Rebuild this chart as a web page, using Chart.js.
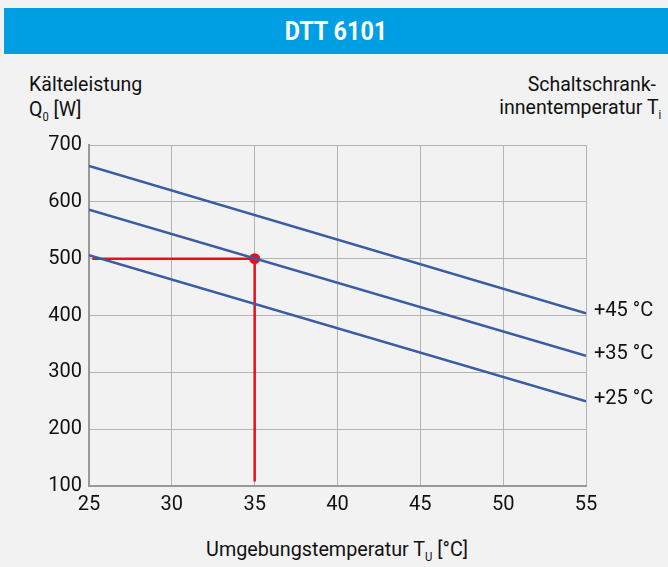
<!DOCTYPE html>
<html>
<head>
<meta charset="utf-8">
<script src="https://cdn.jsdelivr.net/npm/chart.js@4.4.1/dist/chart.umd.min.js"></script>
<style>
  body { margin: 0; background: #fff; font-family: Roboto, sans-serif; }
  #wrap { position: relative; width: 668px; height: 567px; background: #f2f2f2; }
  #bar { position: absolute; left: 4px; top: 8px; width: 664px; height: 46px; background: #009fe3; }
  #title { position: absolute; left: 4px; top: 8px; width: 664px; height: 46px; line-height: 46px;
           text-align: center; color: #fff; font-weight: bold; font-size: 26px; }
  #title span { display: inline-block; transform: scaleX(0.9); }
  .lab { position: absolute; font-size: 21px; line-height: 21px; color: #111; white-space: nowrap; }
  .lab sub { font-size: 12px; vertical-align: -5px; line-height: 0; }
  .l { transform: scaleX(0.93); transform-origin: left; }
  .r { transform: scaleX(0.93); transform-origin: right; text-align: right; }
  .m { transform: scaleX(0.94); transform-origin: center; text-align: center; }
  canvas { position: absolute; left: 0; top: 0; }
</style>
</head>
<body>
<div id="wrap">
  <div id="bar"></div>
  <div id="title"><span>DTT 6101</span></div>
  <div class="lab l" style="left:29px; top:74px;">Kälteleistung</div>
  <div class="lab l" style="left:29px; top:99px;">Q<sub>0</sub> [W]</div>
  <div class="lab r" style="right:12px; top:74px;">Schaltschrank-</div>
  <div class="lab r" style="right:7px; top:97px;">innentemperatur T<sub>i</sub></div>
  <div class="lab m" style="left:0; width:674px; top:539px;">Umgebungstemperatur T<sub>U</sub> [°C]</div>
  <canvas id="c" width="668" height="567"></canvas>
</div>
<script>
// Umgebungstemperatur (x) and Kälteleistung values at the line ends
var tempX = [25, 55];
var line45 = [663, 404];
var line35 = [586, 329];
var line25 = [506, 249];
var seriesLabels = ['+45 °C', '+35 °C', '+25 °C'];
// reading example (red)
var exampleX = [25.2, 35, 35];
var exampleY = [500, 500, 108];
var pointX = 35, pointY = 500;

var blue = '#3a5ca2';
var red = '#e8101a';

function pts(xs, ys) {
  return xs.map(function (x, i) { return { x: x, y: ys[i] }; });
}

var endLabels = {
  id: 'endLabels',
  afterDatasetsDraw: function (chart) {
    var c = chart.ctx, xs = chart.scales.x, ys = chart.scales.y;
    c.save();
    c.font = '20px Roboto, sans-serif';
    c.fillStyle = '#111';
    c.textBaseline = 'middle';
    c.textAlign = 'left';
    [line45, line35, line25].forEach(function (arr, i) {
      c.fillText(seriesLabels[i], xs.getPixelForValue(55) + 8, ys.getPixelForValue(arr[1]) - 2);
    });
    c.restore();
  }
};

new Chart(document.getElementById('c').getContext('2d'), {
  type: 'scatter',
  data: {
    datasets: [
      { data: pts(tempX, line45), showLine: true, borderColor: blue, borderWidth: 2.5, pointRadius: 0 },
      { data: pts(tempX, line35), showLine: true, borderColor: blue, borderWidth: 2.5, pointRadius: 0 },
      { data: pts(tempX, line25), showLine: true, borderColor: blue, borderWidth: 2.5, pointRadius: 0 },
      { data: pts(exampleX, exampleY), showLine: true, borderColor: red, borderWidth: 2.5, pointRadius: 0 },
      { data: [{ x: pointX, y: pointY }], backgroundColor: red, borderWidth: 0, pointRadius: 5.5 }
    ]
  },
  options: {
    responsive: false,
    animation: false,
    layout: { padding: { left: 0, top: 145, right: 82, bottom: 0 } },
    plugins: { legend: { display: false }, tooltip: { enabled: false } },
    scales: {
      x: {
        type: 'linear', min: 25, max: 55,
        ticks: { stepSize: 5, color: '#111', font: { family: 'Roboto', size: 20 }, padding: 7 },
        grid: { color: '#b4b4b4', lineWidth: 1, drawTicks: false },
        border: { color: '#999', width: 2 },
        afterFit: function (s) { s.height = 81; }
      },
      y: {
        min: 100, max: 700,
        ticks: { stepSize: 100, color: '#111', font: { family: 'Roboto', size: 20 }, padding: 7 },
        grid: { color: '#b4b4b4', lineWidth: 1, drawTicks: false },
        border: { color: '#999', width: 2 },
        afterFit: function (s) { s.width = 89; }
      }
    }
  },
  plugins: [endLabels]
});
</script>
</body>
</html>
